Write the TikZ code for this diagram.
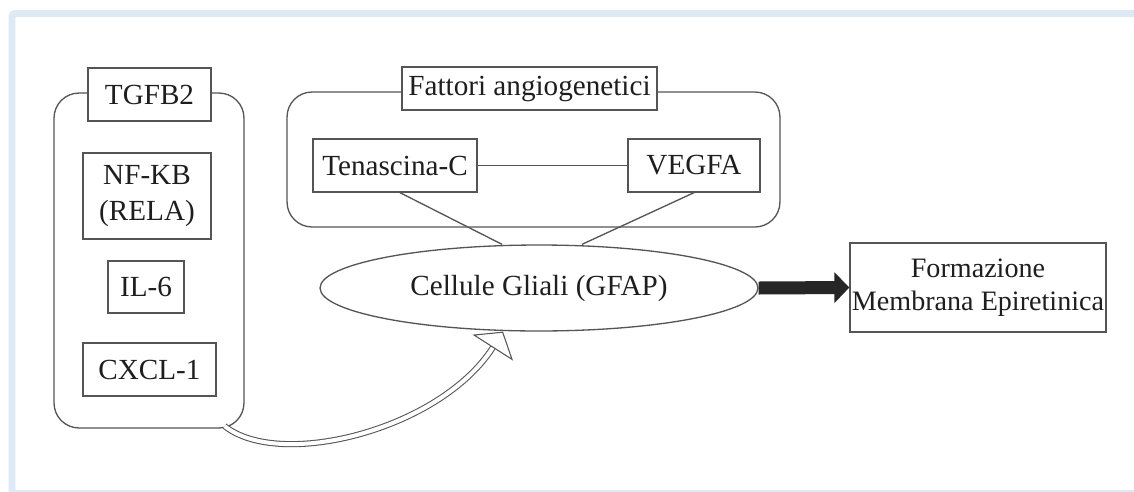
\documentclass[tikz,border=0pt]{standalone}
\usepackage{fontspec}
\setmainfont{Liberation Serif}
\usepackage{tikz}
\usetikzlibrary{shapes.geometric, arrows.meta, positioning}
\definecolor{framebg}{HTML}{DDEAF6}
\definecolor{linegray}{HTML}{555555}
\definecolor{textgray}{HTML}{1E1E1E}

\begin{document}
\begin{tikzpicture}[x=0.02cm, y=-0.02cm,
    every node/.style={font=\fontsize{16.6pt}{19pt}\selectfont, text=textgray},
    genebox/.style={rectangle, draw=linegray, line width=0.75pt, fill=white, inner sep=0pt, align=center},
    groupbox/.style={rectangle, draw=linegray, line width=0.75pt, rounded corners=0.5cm, inner sep=0pt},
    link/.style={draw=linegray, line width=0.75pt}]
    \useasboundingbox (0,0) rectangle (1134,491);
    \clip (0,0) rectangle (1134,491);
    \fill [white] (0,0) rectangle (1134,491);
    \draw [framebg, line width=0.14cm, rounded corners=0.06cm] (12,13.5) rectangle (1150,493.5);

    \node [groupbox, minimum width=3.8cm, minimum height=6.7cm] (genes) at (149,260.5) {};
    \node [groupbox, minimum width=9.86cm, minimum height=2.7cm] (angio) at (533.5,159.5) {};

    \node [genebox, minimum width=2.46cm, minimum height=1.06cm] (tgfb) at (149.5,94.5) {TGFB2};
    \node [genebox, minimum width=2.56cm, minimum height=1.72cm, font=\fontsize{16.6pt}{21pt}\selectfont] (nfkb) at (147,196) {NF-KB\\(RELA)};
    \node [genebox, minimum width=1.52cm, minimum height=1.04cm] (il) at (146,287) {IL-6};
    \node [genebox, minimum width=2.66cm, minimum height=1.06cm] (cxcl) at (149.5,369.5) {CXCL-1};

    \node [genebox, minimum width=5.1cm, minimum height=0.86cm] (fattori) at (529.5,88.5) {Fattori angiogenetici};
    \node [genebox, minimum width=3.28cm, minimum height=1.06cm] (tenascina) at (395,165.5) {Tenascina-C};
    \node [genebox, minimum width=2.64cm, minimum height=1.06cm] (vegfa) at (694,165.5) {VEGFA};

    \node [ellipse, draw=linegray, line width=0.75pt, fill=white, inner sep=0pt, minimum width=8.76cm, minimum height=1.72cm] (glia) at (539,288) {Cellule Gliali (GFAP)};
    \node [genebox, minimum width=5.12cm, minimum height=1.78cm, font=\fontsize{16pt}{18.5pt}\selectfont] (membrana) at (978,287.5) {Formazione\\Membrana Epiretinica};

    \draw [link] (tenascina) -- (vegfa);
    \draw [link] ([xshift=0.1cm]tenascina.south) -- ([xshift=-0.74cm]glia.north);
    \draw [link] (vegfa.south) -- ([xshift=0.86cm]glia.north);

    \draw [-{Triangle[length=0.3cm, width=0.6cm]}, line width=0.26cm, black!85] (glia.east) -- (membrana.west);
    \draw [-{Triangle[open, length=0.38cm, width=0.96cm]}, draw=linegray, line width=0.6pt, double=white, double distance=0.08cm] ([xshift=-0.4cm, yshift=0.05cm]genes.south east) .. controls (280,470) and (440,430) .. ([xshift=-0.72cm]glia.south);
\end{tikzpicture}
\end{document}
